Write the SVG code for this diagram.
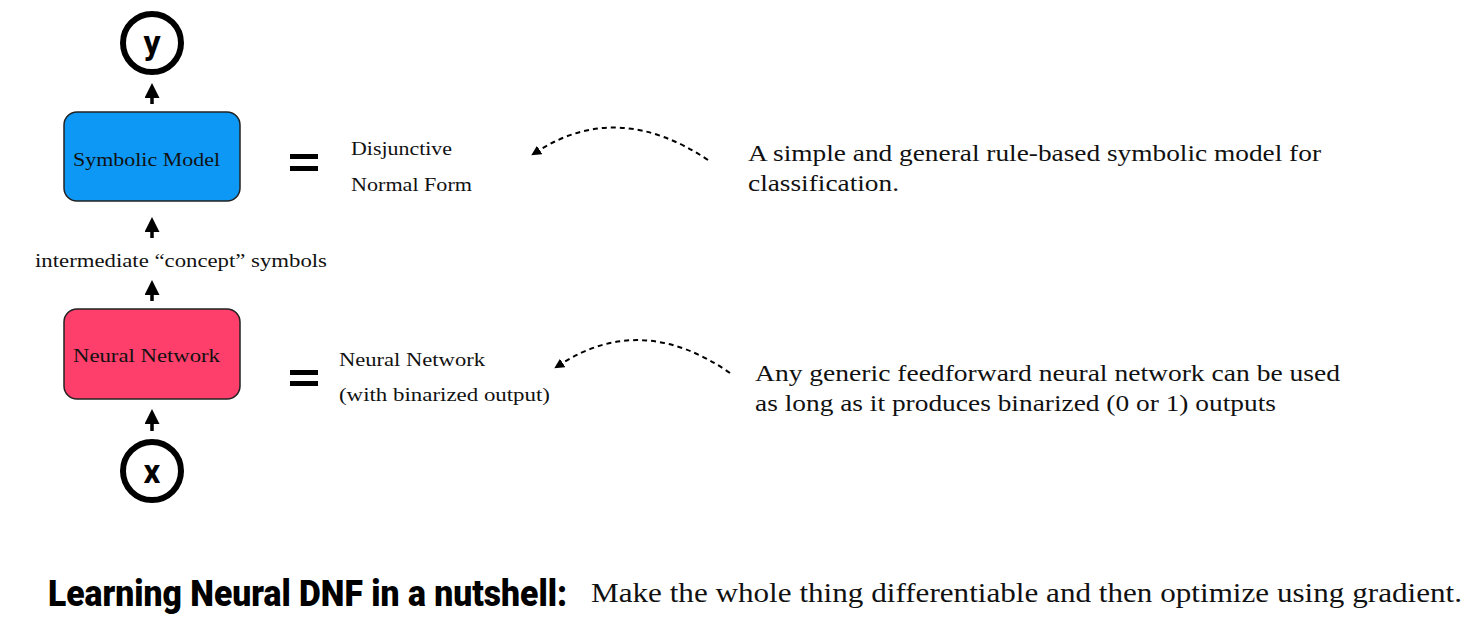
<svg xmlns="http://www.w3.org/2000/svg" width="1475" height="630" viewBox="0 0 1475 630">
<defs>
<marker id="ah" markerUnits="userSpaceOnUse" markerWidth="16" markerHeight="16" refX="3" refY="7.5" orient="auto">
<path d="M0,0 L15,7.5 L0,15 z" fill="#000"/>
</marker>
<marker id="ahs" markerUnits="userSpaceOnUse" markerWidth="12" markerHeight="12" refX="2" refY="5" orient="auto">
<path d="M0,0 L10,5 L0,10 z" fill="#000"/>
</marker>
</defs>
<style>
.serif{font-family:"Liberation Serif","DejaVu Serif",serif;fill:#111}
.box{stroke:#222;stroke-width:1.5}
.circ{fill:none;stroke:#000;stroke-width:6}
.sym{font-family:Roboto,"Liberation Sans",sans-serif;font-weight:700;fill:#000;text-anchor:middle}
.arr{stroke:#000;stroke-width:3.5;fill:none;marker-end:url(#ah)}
.dash{stroke:#000;stroke-width:2;fill:none;stroke-dasharray:5 4;marker-end:url(#ahs)}
.eq{fill:#000}
</style>
<rect width="1475" height="630" fill="#fff"/>

<g id="node-y">
<circle class="circ" cx="152" cy="43" r="29"/>
<text class="sym" x="152" y="54" font-size="34">y</text>
</g>

<g id="node-symbolic">
<rect class="box" x="64" y="112" width="176" height="89" rx="13" fill="#0E98F5"/>
<text class="serif" x="73" y="166" font-size="18.5" textLength="147" lengthAdjust="spacingAndGlyphs">Symbolic Model</text>
</g>

<g id="label-concepts">
<text class="serif" x="35" y="267" font-size="18.5" textLength="292" lengthAdjust="spacingAndGlyphs">intermediate “concept” symbols</text>
</g>

<g id="node-neural">
<rect class="box" x="64" y="309" width="176" height="90" rx="13" fill="#FE3E6B"/>
<text class="serif" x="73" y="362" font-size="18.5" textLength="147" lengthAdjust="spacingAndGlyphs">Neural Network</text>
</g>

<g id="node-x">
<circle class="circ" cx="152" cy="471" r="29"/>
<text class="sym" x="152" y="483" font-size="33">x</text>
</g>

<g id="equals-1">
<rect class="eq" x="290" y="154" width="28" height="5"/>
<rect class="eq" x="290" y="166" width="28" height="5"/>
</g>
<g id="equals-2">
<rect class="eq" x="290" y="370" width="28" height="5"/>
<rect class="eq" x="290" y="381" width="28" height="5"/>
</g>

<g id="node-dnf">
<text class="serif" x="351" y="155" font-size="18.5" textLength="101" lengthAdjust="spacingAndGlyphs">Disjunctive</text>
<text class="serif" x="351" y="191" font-size="18.5" textLength="121" lengthAdjust="spacingAndGlyphs">Normal Form</text>
</g>

<g id="node-nn-binarized">
<text class="serif" x="339" y="366" font-size="18.5" textLength="146" lengthAdjust="spacingAndGlyphs">Neural Network</text>
<text class="serif" x="339" y="401" font-size="18.5" textLength="211" lengthAdjust="spacingAndGlyphs">(with binarized output)</text>
</g>

<g id="note-dnf">
<text class="serif" x="748" y="161" font-size="23" textLength="573" lengthAdjust="spacingAndGlyphs">A simple and general rule-based symbolic model for</text>
<text class="serif" x="748" y="191" font-size="23" textLength="151" lengthAdjust="spacingAndGlyphs">classification.</text>
</g>

<g id="note-nn">
<text class="serif" x="755" y="381" font-size="23" textLength="585" lengthAdjust="spacingAndGlyphs">Any generic feedforward neural network can be used</text>
<text class="serif" x="755" y="411" font-size="23" textLength="521" lengthAdjust="spacingAndGlyphs">as long as it produces binarized (0 or 1) outputs</text>
</g>

<g id="connectors">
<line class="arr" x1="152" y1="104" x2="152" y2="95"/>
<line class="arr" x1="152" y1="238" x2="152" y2="229"/>
<line class="arr" x1="152" y1="301" x2="152" y2="292"/>
<line class="arr" x1="152" y1="431" x2="152" y2="421"/>
<path class="dash" d="M708,160 Q618,100 538,151"/>
<path class="dash" d="M730,373 Q642,312 561,364"/>
</g>

<g id="footer">
<text x="48" y="606" font-family="Roboto,'Liberation Sans',sans-serif" font-weight="900" font-size="37" fill="#000" textLength="519" lengthAdjust="spacingAndGlyphs">Learning Neural DNF in a nutshell:</text>
<text class="serif" x="591" y="602" font-size="27.5" textLength="871" lengthAdjust="spacingAndGlyphs">Make the whole thing differentiable and then optimize using gradient.</text>
</g>
</svg>
